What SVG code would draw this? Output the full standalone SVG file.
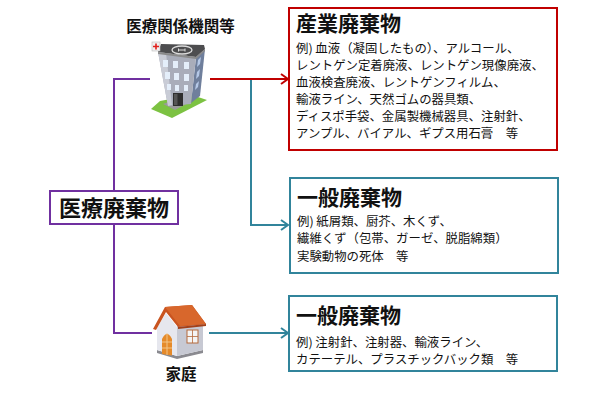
<svg xmlns="http://www.w3.org/2000/svg" width="600" height="400" viewBox="0 0 600 400">
<defs>
<style>
.t{font-family:"Noto Sans CJK JP","Noto Sans CJK SC",sans-serif;fill:#111}
.h{font-size:21px;font-weight:bold}
.b{font-size:12.4px}
.lbl{font-size:15.5px;font-weight:bold}
.box{fill:#fff;stroke-width:2}
.ln{fill:none;stroke-width:2}
</style>
<marker id="arR" viewBox="0 0 12 12" refX="10" refY="6" markerWidth="12" markerHeight="12" orient="auto" markerUnits="userSpaceOnUse">
<path d="M3,1 L10,6 L3,11" fill="none" stroke="#C00000" stroke-width="2"/>
</marker>
<marker id="arT" viewBox="0 0 12 12" refX="10" refY="6" markerWidth="12" markerHeight="12" orient="auto" markerUnits="userSpaceOnUse">
<path d="M3,1 L10,6 L3,11" fill="none" stroke="#31849B" stroke-width="2"/>
</marker>
</defs>
<rect width="600" height="400" fill="#fff"/>

<g id="connectors">
<path class="ln" stroke="#7030A0" d="M150,79 H114 V191"/>
<path class="ln" stroke="#7030A0" d="M114,224 V333 H152"/>
<path class="ln" stroke="#C00000" d="M210,79 H288" marker-end="url(#arR)"/>
<path class="ln" stroke="#31849B" d="M251,80 V225 H288" marker-end="url(#arT)"/>
<path class="ln" stroke="#31849B" d="M209,333 H288" marker-end="url(#arT)"/>
</g>

<g id="hospital">
<text class="t lbl" x="180.5" y="32" text-anchor="middle">医療関係機関等</text>
<polygon points="151,109 172,118 207,100 192,95 160,101" fill="#7cc242"/>
<polygon points="163,104 175,110 190,102 180,98" fill="#9a9a9a"/>
<polygon points="196,57 205,49 200,96 191,103" fill="#6f7f9c"/>
<polygon points="158,52 196,57 191,104 168,106" fill="#a9adba"/>
<polygon points="158,52 166,53 172,105 168,106" fill="#c9ccd6"/>
<g fill="#e4eefa">
<rect x="163" y="60" width="5" height="7"/><rect x="173" y="61" width="5" height="7"/><rect x="184" y="62" width="5" height="7"/>
<rect x="165" y="72" width="5" height="7"/><rect x="174" y="73" width="5" height="7"/><rect x="184" y="74" width="5" height="7"/>
<rect x="167" y="84" width="4" height="6"/><rect x="175" y="85" width="4" height="6"/><rect x="184" y="85" width="4" height="6"/>
</g>
<g fill="#b5c8e6">
<polygon points="198,60 201,57 200,64 197,67"/><polygon points="197,72 200,69 199,76 196,79"/><polygon points="196,84 199,81 198,87 195,90"/>
</g>
<rect x="173" y="93" width="10" height="13" fill="#2e2e2e"/>
<rect x="174" y="94" width="3.5" height="11" fill="#555"/>
<polygon points="161,44 204,45 205,49 196,57 158,52" fill="#4d4d4f"/>
<polygon points="158,52 196,57 205,49 205,51 196,59 158,54" fill="#8a8a8a"/>
<ellipse cx="182" cy="50" rx="10" ry="4" fill="none" stroke="#ddd" stroke-width="1.3"/>
<path d="M178.5,48.5 L178.5,51.5 M178.5,50 H185 M185,48.5 V51.5" stroke="#ddd" stroke-width="1" fill="none"/>
<rect x="152" y="42" width="8" height="9" fill="#f0f0f0" stroke="#bbb" stroke-width="0.6"/>
<path d="M156,43.5 V49.5 M153,46.5 H159" stroke="#e0201c" stroke-width="1.6"/>
</g>

<g id="medical-waste">
<rect class="box" x="50" y="191" width="128" height="33" stroke="#7030A0"/>
<text class="t" x="114" y="216" font-size="22" font-weight="bold" text-anchor="middle">医療廃棄物</text>
</g>

<g id="house">
<polygon points="157,350 177,356 203,350 203,353 177,359 157,353" fill="#8a8a90"/>
<polygon points="177,326 203,324 203,350 177,356" fill="#c7c9d3"/>
<rect x="187" y="330" width="11" height="13" fill="#f4f4f4" stroke="#b56a3c" stroke-width="1"/>
<path d="M192.5,330 V343 M187,336.5 H198" stroke="#b56a3c" stroke-width="0.8"/>
<polygon points="157,328 166,313 177,327 177,356 157,350" fill="#e6e7ee"/>
<path d="M162,354 V339 Q167,329 172,339 V355.5 Z" fill="#e58a2a"/>
<path d="M167,333 V355 M162,342 H172 M162,348 H172" stroke="#f4c98e" stroke-width="0.9"/>
<polygon points="153,329 165,307 192,305 206,324 178,327 166,312 156,330" fill="#c95420"/>
<polygon points="165,307 192,305 206,324 180,326" fill="#d8672c"/>
<polygon points="178,327 206,324 206,326 178,329" fill="#a2401a"/>
<text class="t lbl" x="181" y="380" text-anchor="middle">家庭</text>
</g>

<g id="industrial-waste">
<rect class="box" x="289" y="8" width="268" height="142" stroke="#C00000"/>
<text class="t h" x="296" y="31">産業廃棄物</text>
<text class="t b" x="296" y="53">例) 血液（凝固したもの）、アルコール、</text>
<text class="t b" x="296" y="70">レントゲン定着廃液、レントゲン現像廃液、</text>
<text class="t b" x="296" y="87">血液検査廃液、レントゲンフィルム、</text>
<text class="t b" x="296" y="104">輸液ライン、天然ゴムの器具類、</text>
<text class="t b" x="296" y="121">ディスポ手袋、金属製機械器具、注射針、</text>
<text class="t b" x="296" y="138">アンプル、バイアル、ギプス用石膏　等</text>
</g>

<g id="general-waste-1">
<rect class="box" x="290" y="178" width="268" height="95" stroke="#31849B"/>
<text class="t h" x="297" y="205">一般廃棄物</text>
<text class="t b" x="297" y="225.5">例) 紙屑類、厨芥、木くず、</text>
<text class="t b" x="297" y="243">繊維くず（包帯、ガーゼ、脱脂綿類）</text>
<text class="t b" x="297" y="260.5">実験動物の死体　等</text>
</g>

<g id="general-waste-2">
<rect class="box" x="289" y="296" width="268" height="75" stroke="#31849B"/>
<text class="t h" x="296" y="323">一般廃棄物</text>
<text class="t b" x="296" y="346.5">例) 注射針、注射器、輸液ライン、</text>
<text class="t b" x="296" y="363.5">カテーテル、プラスチックバック類　等</text>
</g>
</svg>
